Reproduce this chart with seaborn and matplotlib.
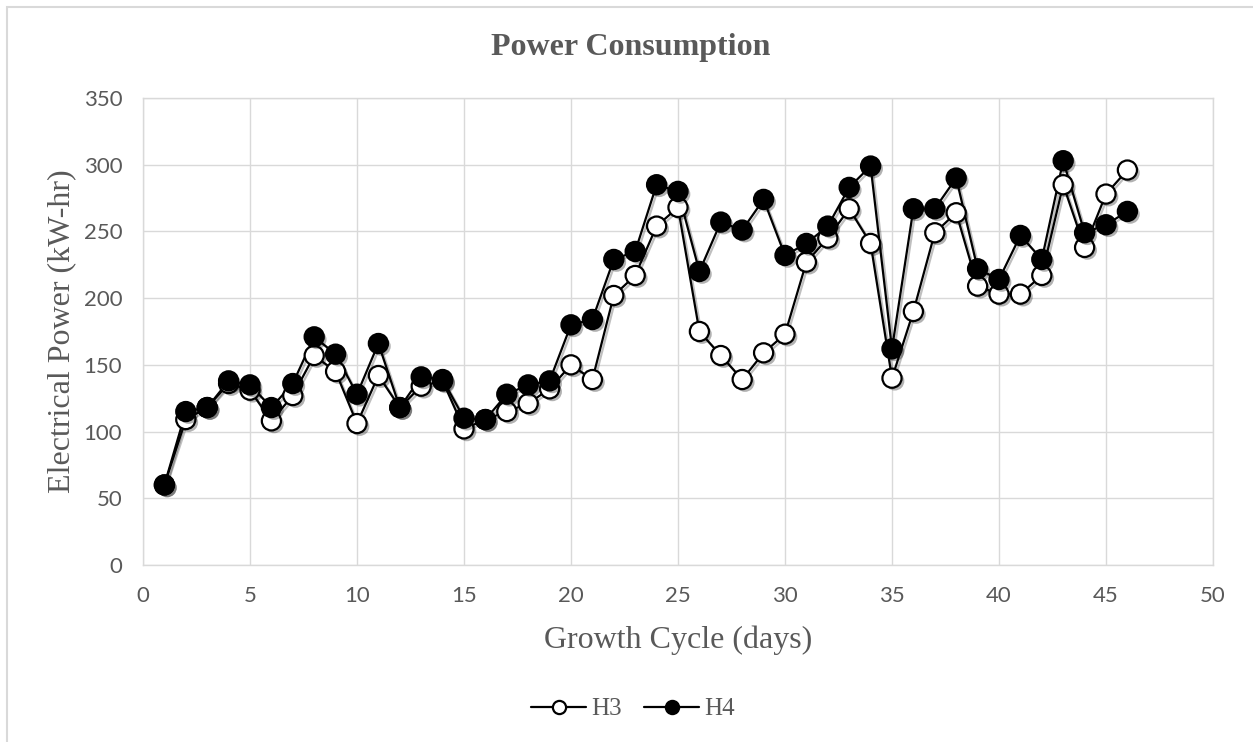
import matplotlib
matplotlib.use("Agg")
import matplotlib.pyplot as plt
import matplotlib.patheffects as pe
from matplotlib.lines import Line2D
from matplotlib.patches import Rectangle
import pandas as pd
import seaborn as sns

# Daily electrical power use over the growth cycle (kW-hr)
days = list(range(1, 47))
h3 = [60, 109, 118, 136, 131, 108, 127, 157, 145, 106,
      142, 118, 134, 138, 102, 109, 115, 121, 132, 150,
      139, 202, 217, 254, 268, 175, 157, 139, 159, 173,
      227, 245, 267, 241, 140, 190, 249, 264, 209, 203,
      203, 217, 285, 238, 278, 296]
h4 = [60, 115, 118, 138, 135, 118, 136, 171, 158, 128,
      166, 118, 141, 139, 110, 109, 128, 135, 138, 180,
      184, 229, 235, 285, 280, 220, 257, 251, 274, 232,
      241, 254, 283, 299, 162, 267, 267, 290, 222, 214,
      247, 229, 303, 249, 255, 265]
series_names = ["H3", "H4"]
marker_faces = ["white", "black"]
x_ticks = list(range(0, 51, 5))
y_ticks = list(range(0, 351, 50))

df = pd.DataFrame({"day": days * 2,
                   "power": h3 + h4,
                   "series": ["H3"] * len(days) + ["H4"] * len(days)})

sns.set_theme(style="white")
SERIF = ["Liberation Serif", "DejaVu Serif"]
SANS = ["Lato", "DejaVu Sans"]
GREY = "#595959"
GRID = "#d9d9d9"

W, H = 1253, 742
fig = plt.figure(figsize=(W / 100, H / 100), dpi=100)
ax = fig.add_axes([143 / W, 1 - 565 / H, 1070 / W, 467 / H])

line_shadow = [pe.SimpleLineShadow(offset=(1.5, -1.5), shadow_color="black", alpha=0.25),
               pe.Normal()]
dot_shadow = [pe.SimplePatchShadow(offset=(2, -2), shadow_rgbFace="black", alpha=0.3),
              pe.Normal()]

for name, face in zip(series_names, marker_faces):
    sub = df[df["series"] == name]
    sns.lineplot(data=sub, x="day", y="power", ax=ax, color="black",
                 linewidth=1.6, estimator=None, sort=True, legend=False,
                 path_effects=line_shadow)
    sns.scatterplot(data=sub, x="day", y="power", ax=ax, s=190,
                    color=face, edgecolor="black", linewidth=1.6,
                    legend=False, path_effects=dot_shadow, zorder=3)

ax.set_xlim(0, 50)
ax.set_ylim(0, 350)
ax.set_xticks(x_ticks)
ax.set_yticks(y_ticks)
ax.grid(True, color=GRID, linewidth=1.0)
ax.set_axisbelow(True)
for sp in ax.spines.values():
    sp.set_color(GRID)
    sp.set_linewidth(1.0)
ax.tick_params(axis="both", length=0, pad=15, labelsize=16, labelcolor=GREY)
for lab in ax.get_xticklabels() + ax.get_yticklabels():
    lab.set_family(SANS)

ax.set_xlabel("Growth Cycle (days)", family=SERIF, fontsize=23, color=GREY, va="center")
ax.set_ylabel("Electrical Power (kW-hr)", family=SERIF, fontsize=23, color=GREY, va="center")
ax.xaxis.set_label_coords(0.5, (565 - 640) / 467)
ax.yaxis.set_label_coords((62 - 143) / 1070, 0.5)

fig.text(631 / W, 1 - 47 / H, "Power Consumption", ha="center", va="center",
         family=SERIF, fontsize=23, fontweight="bold", color=GREY)

handles = [Line2D([], [], color="black", linewidth=1.6, marker="o", markersize=9.5,
                  markerfacecolor=f, markeredgecolor="black", markeredgewidth=1.6)
           for f in marker_faces]
leg = fig.legend(handles, series_names, loc="center", bbox_to_anchor=(633 / W, 1 - 709 / H),
                 ncol=2, frameon=False, handlelength=2.2, handletextpad=0.2,
                 columnspacing=0.9, prop={"family": SERIF, "size": 18})
for t in leg.get_texts():
    t.set_color(GREY)

fig.patches.append(Rectangle((7 / W, -0.5), 2.0, 0.5 + 1 - 7 / H, transform=fig.transFigure,
                             fill=False, edgecolor=GRID, linewidth=1.5, clip_on=False))

fig.savefig("out.png", dpi=100, facecolor="white")
